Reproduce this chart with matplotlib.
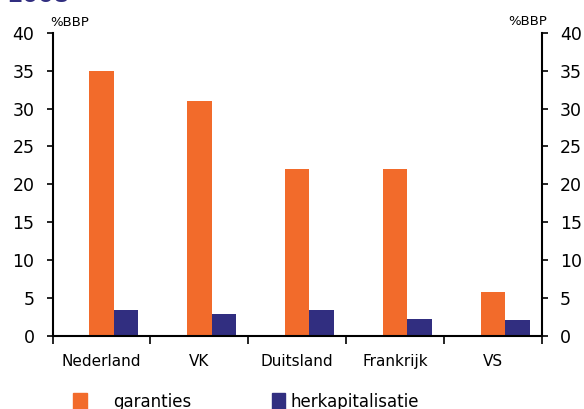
import numpy as np
import matplotlib
matplotlib.use('Agg')
import matplotlib.pyplot as plt
from matplotlib.patches import Patch

landen = ['Nederland', 'VK', 'Duitsland', 'Frankrijk', 'VS']
garanties = [35, 31, 22, 22, 5.8]
herkapitalisatie = [3.4, 2.9, 3.4, 2.25, 2.05]
y_ticks = [0, 5, 10, 15, 20, 25, 30, 35, 40]

oranje = '#F26B2B'
blauw = '#312E80'

fig = plt.figure(figsize=(5.84, 4.09), dpi=100)
ax = fig.add_axes([0.0899, 0.1785, 0.838, 0.7415])

x = np.arange(len(landen))
w = 0.25
ax.bar(x, garanties, w, color=oranje, label='garanties')
ax.bar(x + w, herkapitalisatie, w, color=blauw, label='herkapitalisatie')

ax.set_xlim(-0.5, len(landen) - 0.5)
ax.set_ylim(0, 40)
ax.set_yticks(y_ticks)
ax.set_xticks(np.arange(len(landen) + 1) - 0.5)
ax.set_xticklabels([])
ax.set_xticks(x, minor=True)
ax.set_xticklabels(landen, minor=True, fontsize=11)
ax.tick_params(axis='x', which='minor', length=0, pad=13)
ax.tick_params(axis='x', which='major', direction='out', length=6, width=1.2)
ax.tick_params(axis='y', direction='out', length=4, width=1.2, labelsize=12.5, pad=9,
               left=True, right=True, labelleft=True, labelright=True)

for s in ['left', 'right', 'bottom']:
    ax.spines[s].set_linewidth(1.5)
ax.spines['top'].set_visible(False)

fig.text(0.086, 0.944, '%BBP', fontsize=9.5, ha='left', va='center')
fig.text(0.937, 0.948, '%BBP', fontsize=9.5, ha='right', va='center')
fig.text(0.012, 0.994, '2008', fontsize=16, fontweight='bold', color=blauw,
         ha='left', va='baseline')

h1 = [Patch(color=oranje)]
h2 = [Patch(color=blauw)]
leg1 = fig.legend(h1, ['garanties'], loc='center left', bbox_to_anchor=(0.1, 0.018),
                  frameon=False, fontsize=12, handlelength=0.8, handleheight=1.1,
                  handletextpad=1.6)
fig.legend(h2, ['herkapitalisatie'], loc='center left', bbox_to_anchor=(0.44, 0.018),
           frameon=False, fontsize=12, handlelength=0.8, handleheight=1.1,
           handletextpad=0.3)

fig.savefig('out.png', dpi=100)
